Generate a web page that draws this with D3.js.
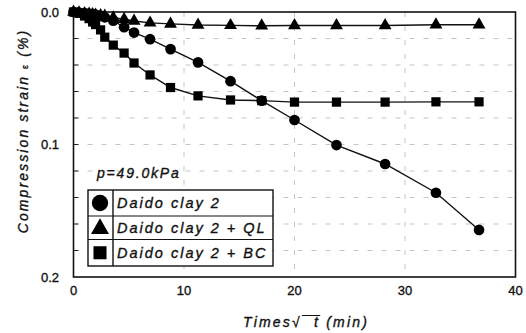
<!DOCTYPE html>
<html><head><meta charset="utf-8">
<script src="https://cdnjs.cloudflare.com/ajax/libs/d3/7.8.5/d3.min.js"></script>
<style>
body{margin:0;background:#fff;}
text{font-family:"Liberation Sans",Arial,sans-serif;fill:#111;stroke:#111;stroke-width:0.35px;}
</style></head>
<body><svg id="c" width="526" height="333"></svg>
<script>
const times = [0, 0.5, 1, 1.41, 1.73, 2, 2.45, 2.83, 3.6, 4.58, 5.48, 6.93, 8.78, 11.27, 14.21, 17.03, 20.0, 23.8, 28.2, 32.8, 36.7];
const clay2 = [0, 0.0004, 0.0008, 0.0012, 0.0016, 0.002, 0.003, 0.004, 0.0065, 0.0115, 0.0155, 0.0205, 0.028, 0.038, 0.0522, 0.0669, 0.0815, 0.1004, 0.1147, 0.1364, 0.1645];
const clay2QL = [0, 0.0005, 0.001, 0.0015, 0.0018, 0.0022, 0.0026, 0.003, 0.0043, 0.0055, 0.0068, 0.0082, 0.009, 0.0098, 0.0101, 0.0104, 0.0102, 0.0102, 0.0102, 0.0096, 0.0096];
const clay2BC = [0, 0.001, 0.003, 0.005, 0.0075, 0.0095, 0.0135, 0.019, 0.025, 0.031, 0.0385, 0.0475, 0.057, 0.0633, 0.0664, 0.0669, 0.068, 0.068, 0.068, 0.0678, 0.0678];
const seriesNames = ["Daido clay 2", "Daido clay 2 + QL", "Daido clay 2 + BC"];
const seriesShapes = ["circle", "triangle", "square"];
const xTicks = [0, 10, 20, 30, 40];
const yTicks = [0, 0.1, 0.2];
const yGrid = [0.02, 0.04, 0.06, 0.08, 0.1, 0.12, 0.14, 0.16, 0.18];
const xGrid = [10, 20, 30];

const svg = d3.select("#c");
const x = d3.scaleLinear().domain([0, 40]).range([73.5, 515.5]);
const y = d3.scaleLinear().domain([0, 0.2]).range([12, 277]);

// grid
svg.append("g").selectAll("line").data(yGrid).join("line")
  .attr("x1", x(0)).attr("x2", x(40)).attr("y1", d => y(d)).attr("y2", d => y(d))
  .attr("stroke", "#888").attr("stroke-width", 0.8).attr("stroke-dasharray", "5,9").attr("opacity", 0.6);
svg.append("g").selectAll("line").data(xGrid).join("line")
  .attr("y1", y(0)).attr("y2", y(0.2)).attr("x1", d => x(d)).attr("x2", d => x(d))
  .attr("stroke", "#888").attr("stroke-width", 0.8).attr("stroke-dasharray", "5,9").attr("opacity", 0.6);

// inner ticks on left axis
svg.append("g").selectAll("line").data(yGrid).join("line")
  .attr("x1", x(0)).attr("x2", x(0) + 5).attr("y1", d => y(d)).attr("y2", d => y(d))
  .attr("stroke", "#222").attr("stroke-width", 1);

// frame
svg.append("rect").attr("x", x(0)).attr("y", y(0)).attr("width", x(40) - x(0)).attr("height", y(0.2) - y(0))
  .attr("fill", "none").attr("stroke", "#111").attr("stroke-width", 1.6);

// tick labels
svg.append("g").selectAll("text").data(yTicks).join("text")
  .attr("x", 59).attr("y", d => y(d)).attr("dy", "0.35em").attr("text-anchor", "end")
  .attr("font-size", 13).text(d => d.toFixed(1));
svg.append("g").selectAll("text").data(xTicks).join("text")
  .attr("x", d => x(d)).attr("y", 295).attr("text-anchor", "middle")
  .attr("font-size", 13).text(d => d);

// axis titles
svg.append("text").attr("transform", "translate(28,131) rotate(-90)").attr("text-anchor", "middle")
  .attr("font-size", 14).attr("font-style", "italic").attr("letter-spacing", 2.1)
  .call(t => { t.append("tspan").text("Compression strain ");
               t.append("tspan").attr("font-size", 9).attr("font-style", "normal").text("ε");
               t.append("tspan").text(" (%)"); });
const xl = svg.append("text").attr("x", 243).attr("y", 327).attr("font-size", 14)
  .attr("font-style", "italic").attr("letter-spacing", 2.2);
xl.append("tspan").text("Times");
xl.append("tspan").attr("font-style", "normal").text("√");
const tsp = xl.append("tspan").text("\u00a0\u00a0t");
xl.append("tspan").text(" (min)");
// overline of radical
const bb = tsp.node().getBBox();
svg.append("line").attr("x1", bb.x).attr("x2", bb.x + bb.width).attr("y1", bb.y + 1.5).attr("y2", bb.y + 1.5)
  .attr("stroke", "#111").attr("stroke-width", 1);

// series
const series = [clay2, clay2QL, clay2BC];
const line = d3.line().x((d, i) => x(times[i])).y(d => y(d));
function marker(shape, size) {
  const type = shape === "circle" ? d3.symbolCircle : shape === "triangle" ? d3.symbolTriangle : d3.symbolSquare;
  return d3.symbol().type(type).size(size)();
}
const sizes = {circle: 90, triangle: 72, square: 85};
series.forEach((vals) => {
  svg.append("path").datum(vals).attr("d", line).attr("fill", "none").attr("stroke", "#111").attr("stroke-width", 1.4);
});
series.forEach((vals, si) => {
  svg.append("g").selectAll("path").data(vals).join("path")
    .attr("transform", (d, i) => `translate(${x(times[i])},${y(d)})`)
    .attr("d", marker(seriesShapes[si], sizes[seriesShapes[si]]))
    .attr("fill", "#000");
});

// annotation
svg.append("text").attr("x", 97).attr("y", 178).attr("font-size", 14).attr("font-style", "italic")
  .attr("letter-spacing", 1.8).text("p=49.0kPa");

// legend
const lx = 88, ly = 190, lw = 185, rowH = [26, 23.5, 26.5];
const lg = svg.append("g");
lg.append("rect").attr("x", lx).attr("y", ly).attr("width", lw).attr("height", d3.sum(rowH))
  .attr("fill", "#fff").attr("stroke", "#111").attr("stroke-width", 1.4);
lg.append("line").attr("x1", 113).attr("x2", 113).attr("y1", ly).attr("y2", ly + d3.sum(rowH)).attr("stroke", "#111").attr("stroke-width", 1.4);
let cy = ly;
const legSizes = {circle: 210, triangle: 140, square: 170};
seriesNames.forEach((name, i) => {
  if (i > 0) lg.append("line").attr("x1", lx).attr("x2", lx + lw).attr("y1", cy).attr("y2", cy).attr("stroke", "#111").attr("stroke-width", 1.2);
  const mid = cy + rowH[i] / 2;
  lg.append("path").attr("transform", `translate(100,${mid + (seriesShapes[i] === "triangle" ? 1 : 0)})`)
    .attr("d", marker(seriesShapes[i], legSizes[seriesShapes[i]])).attr("fill", "#000");
  lg.append("text").attr("x", 117).attr("y", mid).attr("dy", "0.36em").attr("font-size", 14.5)
    .attr("font-style", "italic").attr("letter-spacing", 2).text(name);
  cy += rowH[i];
});
</script></body></html>
